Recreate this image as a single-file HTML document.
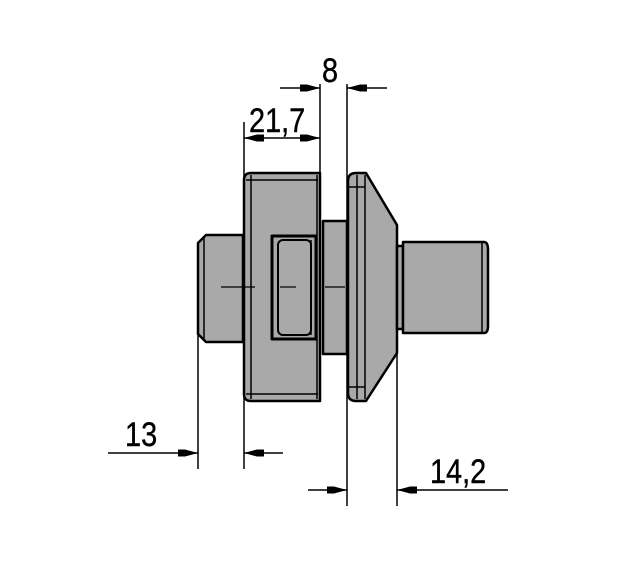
<!DOCTYPE html>
<html><head><style>html,body{margin:0;padding:0;background:#fff}svg{display:block}text{font-family:"Liberation Sans",sans-serif;font-size:34px;fill:#000;stroke:#000;stroke-width:0.4}</style></head>
<body>
<svg width="626" height="563" viewBox="0 0 626 563" xmlns="http://www.w3.org/2000/svg">
<defs>
<marker id="a" viewBox="0 0 20 10" refX="20" refY="5" markerWidth="20" markerHeight="10" markerUnits="userSpaceOnUse" orient="auto"><path d="M0,1.5 L7,1.5 L20,5 L7,8.5 L0,8.5 Z" fill="#000"/></marker>
</defs>
<g stroke="#000" fill="#a9a9a9" stroke-width="2.5" stroke-linejoin="round">
<path d="M206,235 L243,235 L243,342 L206,342 L198,334 L198,243 Z"/>
<line x1="204" y1="237" x2="204" y2="340" stroke-width="1.5"/>
<path d="M251,173 L320,173 L320,401 L251,401 Q244,401 244,394 L244,180 Q244,173 251,173 Z"/>
<line x1="251" y1="175" x2="251" y2="399" stroke-width="1.5"/>
<line x1="246" y1="180" x2="318" y2="180" stroke-width="1.5"/>
<line x1="246" y1="394" x2="318" y2="394" stroke-width="1.5"/>
<line x1="317" y1="175" x2="317" y2="399" stroke-width="1.5"/>
<rect x="272" y="236" width="44" height="103" fill="#a9a9a9" stroke-width="3"/>
<rect x="278" y="240" width="33" height="95" rx="5" fill="#a9a9a9" stroke-width="2"/>
<line x1="311" y1="240" x2="311" y2="335" stroke-width="1.5"/>
<rect x="323" y="221" width="24" height="133"/>
<path d="M356,173 L366,173 L397,225 L397,353 L366,401 L356,401 Q348,401 348,393 L348,181 Q348,173 356,173 Z"/>
<line x1="357" y1="175" x2="357" y2="399" stroke-width="1.5"/>
<line x1="365" y1="175" x2="365" y2="399" stroke-width="1.5"/>
<line x1="349" y1="187" x2="365" y2="187" stroke-width="1.5"/>
<line x1="349" y1="387" x2="365" y2="387" stroke-width="1.5"/>
<rect x="397" y="246" width="6" height="83"/>
<path d="M403,242 L484,242 Q488,242 488,250 L488,326 Q488,333 484,333 L403,333 Z"/>
<line x1="482" y1="243" x2="482" y2="332" stroke-width="1.5"/>
</g>
<g stroke="#000" stroke-width="1.2">
<line x1="221" y1="287" x2="255" y2="287"/>
<line x1="280" y1="287" x2="296" y2="287"/>
<line x1="325" y1="287" x2="345" y2="287"/>
</g>
<g stroke="#000" stroke-width="1.5" fill="none">
<line x1="198" y1="334" x2="198" y2="469"/>
<line x1="244" y1="122" x2="244" y2="469"/>
<line x1="320" y1="84" x2="320" y2="173"/>
<line x1="347" y1="84" x2="347" y2="506"/>
<line x1="397" y1="353" x2="397" y2="506"/>
<line x1="280" y1="88" x2="320" y2="88" marker-end="url(#a)"/>
<line x1="387" y1="88" x2="347" y2="88" marker-end="url(#a)"/>
<line x1="282" y1="138" x2="244" y2="138" marker-end="url(#a)"/>
<line x1="282" y1="138" x2="320" y2="138" marker-end="url(#a)"/>
<line x1="108" y1="453" x2="198" y2="453" marker-end="url(#a)"/>
<line x1="283" y1="453" x2="244" y2="453" marker-end="url(#a)"/>
<line x1="308" y1="490" x2="347" y2="490" marker-end="url(#a)"/>
<line x1="508" y1="490" x2="397" y2="490" marker-end="url(#a)"/>
</g>
<text x="322" y="82" transform="translate(322 0) scale(0.85 1) translate(-322 0)">8</text>
<text x="249" y="132" transform="translate(249 0) scale(0.85 1) translate(-249 0)">21,7</text>
<text x="125" y="446" transform="translate(125 0) scale(0.85 1) translate(-125 0)">13</text>
<text x="430" y="483" transform="translate(430 0) scale(0.85 1) translate(-430 0)">14,2</text>
</svg>
</body></html>
